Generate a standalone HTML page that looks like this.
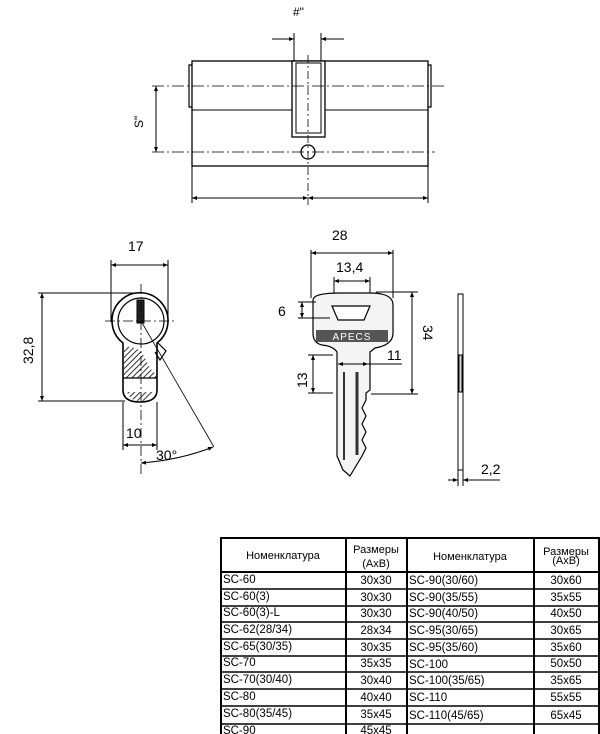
<!DOCTYPE html>
<html><head><meta charset="utf-8"><style>
html,body{margin:0;padding:0;background:#fff;}
svg{display:block;}
text{font-family:"Liberation Sans",sans-serif;}
</style></head><body>
<svg width="600" height="734" viewBox="0 0 600 734" xmlns="http://www.w3.org/2000/svg">
<defs>
<marker id="a" viewBox="0 0 10 10" refX="10" refY="5" markerWidth="7" markerHeight="5" orient="auto-start-reverse"><path d="M0,1 L10,5 L0,9 z" fill="#000"/></marker>
<pattern id="h" width="4" height="4" patternUnits="userSpaceOnUse" patternTransform="rotate(45)"><line x1="0" y1="0" x2="0" y2="4" stroke="#000" stroke-width="1.6"/></pattern>
</defs>
<g fill="none" stroke="#000" stroke-width="1">
<rect x="192" y="61" width="236" height="105" stroke-width="1.3"/>
<line x1="192" y1="110" x2="428" y2="110"/>
<path d="M192,65 h-3 v42 h3 M428,65 h3 v42 h-3" stroke-width="1.2"/>
<rect x="292" y="61" width="33" height="76" fill="#fff" stroke-width="1.3"/>
<rect x="296" y="63" width="25" height="70"/>
<circle cx="308" cy="152" r="7" stroke-width="1.3"/>
<line x1="152" y1="86" x2="447" y2="86" stroke-dasharray="12,3,2,3" stroke-width="0.8"/>
<line x1="152" y1="152" x2="435" y2="152" stroke-dasharray="12,3,2,3" stroke-width="0.8"/>
<line x1="308" y1="55" x2="308" y2="205" stroke-dasharray="8,3,2,3" stroke-width="0.8"/>
<line x1="294" y1="33" x2="294" y2="61"/><line x1="321" y1="33" x2="321" y2="61"/>
<line x1="272" y1="39" x2="294" y2="39" marker-end="url(#a)"/>
<line x1="344" y1="39" x2="321" y2="39" marker-end="url(#a)"/>
<line x1="156" y1="86" x2="156" y2="152" marker-start="url(#a)" marker-end="url(#a)"/>
<line x1="192" y1="166" x2="192" y2="203"/><line x1="428" y1="166" x2="428" y2="203"/>
<line x1="192" y1="198" x2="308" y2="198" marker-start="url(#a)" marker-end="url(#a)"/>
<line x1="308" y1="198" x2="428" y2="198" marker-start="url(#a)" marker-end="url(#a)"/>

<line x1="111" y1="260" x2="111" y2="322"/><line x1="168" y1="260" x2="168" y2="322"/>
<line x1="111" y1="265" x2="168" y2="265" marker-start="url(#a)" marker-end="url(#a)"/>
<line x1="38" y1="293" x2="140" y2="293"/><line x1="38" y1="401" x2="125" y2="401"/>
<line x1="42" y1="293" x2="42" y2="401" marker-start="url(#a)" marker-end="url(#a)"/>
<path d="M123,343 A28,28 0 1 1 157,343 L157,390 Q157,402 140,402 Q123,402 123,390 Z" fill="#fff" stroke-width="1.6"/>
<circle cx="141" cy="321" r="23" stroke-width="1.2"/>
<path d="M124,347 Q140,345 146,360 Q150,370 157,375 L157,378 L124,378 Z" fill="url(#h)" stroke="none"/>
<line x1="123" y1="378" x2="157" y2="378" stroke-width="1.2"/>
<path d="M127,392 L154,392 Q150,401 140,401 Q130,401 127,392 Z" fill="url(#h)" stroke="none"/>
<path d="M158,343 L166,351 L160,360 L155,352" stroke-width="1.2"/>
<rect x="137" y="300" width="7" height="23" fill="#222"/>
<line x1="105" y1="321" x2="175" y2="321" stroke-dasharray="10,3,2,3" stroke-width="0.8"/>
<line x1="141" y1="284" x2="141" y2="475" stroke-dasharray="10,3,2,3" stroke-width="0.8"/>
<line x1="141" y1="321" x2="214" y2="447" stroke-width="0.8"/>
<line x1="123" y1="402" x2="123" y2="450"/><line x1="157" y1="402" x2="157" y2="450"/>
<line x1="123" y1="445" x2="157" y2="445" marker-start="url(#a)" marker-end="url(#a)"/>
<path d="M141,463 Q180,460 213,447" marker-start="url(#a)" marker-end="url(#a)"/>

<line x1="311" y1="250" x2="311" y2="298"/><line x1="393" y1="250" x2="393" y2="298"/>
<line x1="311" y1="253" x2="393" y2="253" marker-start="url(#a)" marker-end="url(#a)"/>
<line x1="334" y1="277" x2="334" y2="298"/><line x1="370" y1="277" x2="370" y2="298"/>
<line x1="334" y1="281" x2="370" y2="281" marker-start="url(#a)" marker-end="url(#a)"/>
<path d="M313,300 Q313,293 340,293 L370,293 Q393,293 393,305 L393,333 Q393,345 375,348 L370,352 L370,390 L366,393 L366,400 L362,408 L366,416 L362,424 L366,432 L362,440 L366,448 L362,456 L350,476 L343,470 L337,456 L337,352 Q333,346 322,345 Q313,343 313,333 Z" fill="#f4f4f4" stroke-width="1.2"/>
<path d="M332,306 L370,306 L364,320 L338,320 Z" fill="#fff" stroke-width="1.2"/>
<rect x="316" y="330" width="72" height="12" fill="#555" stroke="none"/>
<line x1="344" y1="372" x2="344" y2="460" stroke-width="2" stroke="#333"/>
<line x1="357" y1="372" x2="357" y2="455" stroke-width="3" stroke="#333"/>
<line x1="298" y1="302" x2="316" y2="302"/><line x1="298" y1="318" x2="330" y2="318"/>
<line x1="302" y1="302" x2="302" y2="318" marker-start="url(#a)" marker-end="url(#a)"/>
<line x1="376" y1="292" x2="418" y2="292"/><line x1="371" y1="394" x2="418" y2="394"/>
<line x1="412" y1="292" x2="412" y2="394" marker-start="url(#a)" marker-end="url(#a)"/>
<line x1="338" y1="364" x2="368" y2="364" marker-start="url(#a)" marker-end="url(#a)"/>
<line x1="368" y1="364" x2="402" y2="364"/>
<line x1="308" y1="355" x2="333" y2="355"/><line x1="308" y1="393" x2="333" y2="393"/>
<line x1="313" y1="355" x2="313" y2="393" marker-start="url(#a)" marker-end="url(#a)"/>
<rect x="458" y="294" width="5" height="176" fill="#fff"/>
<rect x="459" y="355" width="3" height="37" fill="#ddd"/>
<line x1="458" y1="470" x2="458" y2="486"/><line x1="463" y1="470" x2="463" y2="486"/>
<line x1="448" y1="480" x2="458" y2="480" marker-end="url(#a)"/>
<line x1="500" y1="480" x2="463" y2="480" marker-end="url(#a)"/>
</g>
<text x="293" y="16" font-size="12">#"</text>
<text x="0" y="0" font-size="12" transform="translate(143,128) rotate(-90)">S"</text>
<text x="128" y="251" font-size="14">17</text>
<text x="0" y="0" font-size="14" transform="translate(33,364) rotate(-90)">32,8</text>
<text x="126" y="438" font-size="14">10</text>
<text x="156" y="460" font-size="14">30°</text>
<text x="332" y="240" font-size="14">28</text>
<text x="336" y="272" font-size="14">13,4</text>
<text x="278" y="316" font-size="14">6</text>
<text x="0" y="0" font-size="14" transform="translate(423,325) rotate(90)">34</text>
<text x="387" y="360" font-size="14">11</text>
<text x="0" y="0" font-size="14" transform="translate(307,388) rotate(-90)">13</text>
<text x="481" y="474" font-size="14">2,2</text>
<text x="352" y="340" font-size="10" fill="#fff" text-anchor="middle" letter-spacing="1">APECS</text>

<g stroke="#000" fill="none">
<rect x="221" y="538" width="378" height="200" stroke-width="2"/>
<line x1="221" y1="572" x2="599" y2="572" stroke-width="2"/>
<line x1="346" y1="538" x2="346" y2="734" stroke-width="2"/>
<line x1="407" y1="538" x2="407" y2="734" stroke-width="2"/>
<line x1="534" y1="538" x2="534" y2="734" stroke-width="2"/>
<g stroke-width="1.5">
<line x1="221" y1="589" x2="599" y2="589"/><line x1="221" y1="606" x2="599" y2="606"/>
<line x1="221" y1="622" x2="599" y2="622"/><line x1="221" y1="639" x2="599" y2="639"/>
<line x1="221" y1="656" x2="599" y2="656"/><line x1="221" y1="672" x2="599" y2="672"/>
<line x1="221" y1="689" x2="599" y2="689"/><line x1="221" y1="706" x2="599" y2="706"/>
<line x1="221" y1="724" x2="599" y2="724"/>
</g></g>
<g font-size="11">
<text x="283" y="559" text-anchor="middle">Номенклатура</text>
<text x="376" y="553" text-anchor="middle">Размеры</text><text x="376" y="567" text-anchor="middle">(АхВ)</text>
<text x="470" y="560" text-anchor="middle">Номенклатура</text>
<text x="566" y="555" text-anchor="middle">Размеры</text><text x="566" y="564" text-anchor="middle">(АхВ)</text>
</g>
<g font-size="11.5">
<text x="223" y="583">SC-60</text><text x="376" y="584" text-anchor="middle">30x30</text>
<text x="223" y="600">SC-60(3)</text><text x="376" y="601" text-anchor="middle">30x30</text>
<text x="223" y="616">SC-60(3)-L</text><text x="376" y="617" text-anchor="middle">30x30</text>
<text x="223" y="633">SC-62(28/34)</text><text x="376" y="634" text-anchor="middle">28x34</text>
<text x="223" y="650">SC-65(30/35)</text><text x="376" y="651" text-anchor="middle">30x35</text>
<text x="223" y="666">SC-70</text><text x="376" y="667" text-anchor="middle">35x35</text>
<text x="223" y="683">SC-70(30/40)</text><text x="376" y="684" text-anchor="middle">30x40</text>
<text x="223" y="700">SC-80</text><text x="376" y="701" text-anchor="middle">40x40</text>
<text x="223" y="717">SC-80(35/45)</text><text x="376" y="718" text-anchor="middle">35x45</text>
<text x="223" y="734">SC-90</text><text x="376" y="734" text-anchor="middle">45x45</text>
<text x="409" y="584">SC-90(30/60)</text><text x="566" y="584" text-anchor="middle">30x60</text>
<text x="409" y="601">SC-90(35/55)</text><text x="566" y="601" text-anchor="middle">35x55</text>
<text x="409" y="617">SC-90(40/50)</text><text x="566" y="617" text-anchor="middle">40x50</text>
<text x="409" y="634">SC-95(30/65)</text><text x="566" y="634" text-anchor="middle">30x65</text>
<text x="409" y="651">SC-95(35/60)</text><text x="566" y="651" text-anchor="middle">35x60</text>
<text x="409" y="668">SC-100</text><text x="566" y="667" text-anchor="middle">50x50</text>
<text x="409" y="684">SC-100(35/65)</text><text x="566" y="684" text-anchor="middle">35x65</text>
<text x="409" y="701">SC-110</text><text x="566" y="701" text-anchor="middle">55x55</text>
<text x="409" y="719">SC-110(45/65)</text><text x="566" y="719" text-anchor="middle">65x45</text>
</g>
</svg>
</body></html>
